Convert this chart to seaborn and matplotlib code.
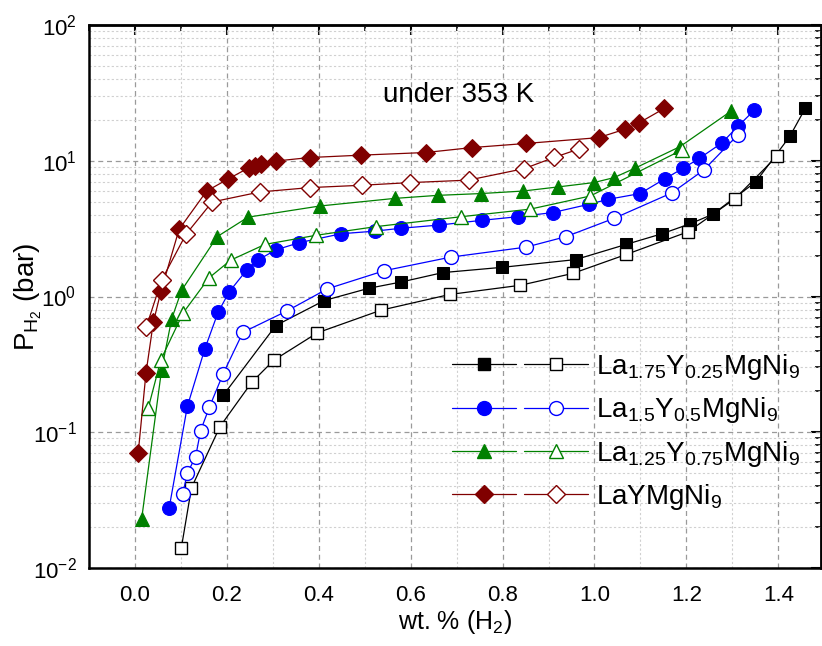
import numpy as np
import pandas as pd
import seaborn as sns
import matplotlib
matplotlib.use("Agg")
import matplotlib.pyplot as plt
from matplotlib.lines import Line2D
from matplotlib.legend_handler import HandlerTuple
from matplotlib.ticker import MultipleLocator, LogLocator, NullFormatter

# ---------------- data ----------------
labels = [r'La$_{1.75}$Y$_{0.25}$MgNi$_9$', r'La$_{1.5}$Y$_{0.5}$MgNi$_9$',
          r'La$_{1.25}$Y$_{0.75}$MgNi$_9$', r'LaYMgNi$_9$']
colors = ['#000000', '#0000FF', '#008000', '#800000']
markers = ['s', 'o', '^', 'D']

x_a_abs = [0.192, 0.3065, 0.412, 0.509, 0.580, 0.670, 0.799, 0.959, 1.069, 1.147, 1.209, 1.257, 1.351, 1.425, 1.459]
y_a_abs = [0.187, 0.611, 0.934, 1.15, 1.28, 1.50, 1.64, 1.87, 2.42, 2.90, 3.44, 4.03, 6.98, 15.1, 24.4]
x_a_des = [0.101, 0.123, 0.185, 0.254, 0.302, 0.397, 0.535, 0.685, 0.839, 0.953, 1.069, 1.204, 1.306, 1.397]
y_a_des = [0.0141, 0.039, 0.110, 0.233, 0.339, 0.540, 0.792, 1.035, 1.21, 1.48, 2.04, 3.0, 5.26, 10.8]

x_b_abs = [0.0746, 0.114, 0.152, 0.181, 0.205, 0.244, 0.267, 0.306, 0.357, 0.449, 0.522, 0.578, 0.662, 0.755, 0.833,
           0.909, 0.988, 1.030, 1.099, 1.154, 1.193, 1.228, 1.277, 1.312, 1.348]
y_b_abs = [0.0279, 0.155, 0.411, 0.766, 1.08, 1.58, 1.85, 2.20, 2.49, 2.90, 3.03, 3.18, 3.36, 3.64, 3.87,
           4.15, 4.78, 5.2, 5.73, 7.39, 8.81, 10.4, 13.5, 17.9, 23.6]
x_b_des = [0.104, 0.114, 0.132, 0.143, 0.162, 0.192, 0.235, 0.330, 0.419, 0.543, 0.687, 0.851, 0.938, 1.043, 1.168, 1.238, 1.312]
y_b_des = [0.035, 0.050, 0.066, 0.103, 0.153, 0.270, 0.545, 0.78, 1.14, 1.55, 1.95, 2.31, 2.76, 3.77, 5.79, 8.55, 15.5]

x_c_abs = [0.0145, 0.058, 0.080, 0.1015, 0.179, 0.246, 0.402, 0.565, 0.659, 0.752, 0.844, 0.920, 0.998, 1.042, 1.088, 1.186, 1.298]
y_c_abs = [0.0229, 0.289, 0.685, 1.11, 2.76, 3.84, 4.64, 5.28, 5.56, 5.73, 5.98, 6.41, 6.9, 7.5, 8.81, 12.7, 23.3]
x_c_des = [0.029, 0.0565, 0.105, 0.161, 0.208, 0.283, 0.393, 0.524, 0.710, 0.86, 0.991, 1.190]
y_c_des = [0.151, 0.343, 0.758, 1.37, 1.85, 2.42, 2.82, 3.27, 3.87, 4.4, 5.5, 12.0]

x_d_abs = [0.007, 0.024, 0.040, 0.0565, 0.096, 0.156, 0.2015, 0.2485, 0.261, 0.274, 0.308, 0.380, 0.493, 0.633,
           0.733, 0.850, 1.009, 1.067, 1.098, 1.152]
y_d_abs = [0.070, 0.273, 0.645, 1.09, 3.12, 5.98, 7.3, 8.9, 9.1, 9.5, 9.96, 10.56, 11.0, 11.5,
           12.5, 13.4, 14.8, 17.1, 19.1, 24.3]
x_d_des = [0.025, 0.058, 0.111, 0.168, 0.272, 0.380, 0.494, 0.598, 0.726, 0.847, 0.913, 0.966]
y_d_des = [0.60, 1.32, 2.87, 4.97, 5.89, 6.34, 6.6, 6.9, 7.2, 8.75, 10.6, 12.2]

abs_x = [x_a_abs, x_b_abs, x_c_abs, x_d_abs]
abs_y = [y_a_abs, y_b_abs, y_c_abs, y_d_abs]
des_x = [x_a_des, x_b_des, x_c_des, x_d_des]
des_y = [y_a_des, y_b_des, y_c_des, y_d_des]

# ---------------- style ----------------
sns.set_theme(style="white")
plt.rcParams['font.family'] = ['Liberation Sans Narrow', 'Liberation Sans', 'DejaVu Sans']
plt.rcParams['mathtext.default'] = 'regular'
plt.rcParams['axes.unicode_minus'] = False
for k in ['text.color', 'axes.labelcolor', 'xtick.color', 'ytick.color', 'legend.labelcolor']:
    plt.rcParams[k] = 'black'

fig = plt.figure(figsize=(8.22, 6.46), dpi=100)
ax = fig.add_axes([89 / 822, 78 / 646, (821 - 89) / 822, (568 - 25) / 646])

msizes = [9, 10, 10.5, 9]
for i in range(4):
    sns.lineplot(x=abs_x[i], y=abs_y[i], ax=ax, color=colors[i], marker=markers[i],
                 markersize=msizes[i], markerfacecolor=colors[i], markeredgecolor=colors[i],
                 linewidth=0.9, sort=False, estimator=None, legend=False, zorder=3)
    sns.lineplot(x=des_x[i], y=des_y[i], ax=ax, color=colors[i], marker=markers[i],
                 markersize=msizes[i], markerfacecolor='white', markeredgecolor=colors[i],
                 markeredgewidth=1.0, linewidth=0.9, sort=False, estimator=None, legend=False, zorder=3)

ax.set_yscale('log')
ax.set_xlim(-0.1, 1.493)
ax.set_ylim(0.01, 100)

ax.xaxis.set_major_locator(MultipleLocator(0.2))
ax.xaxis.set_minor_locator(MultipleLocator(0.1))
ax.yaxis.set_major_locator(LogLocator(base=10, numticks=10))
ax.yaxis.set_minor_locator(LogLocator(base=10, subs=np.arange(2, 10), numticks=20))
ax.yaxis.set_minor_formatter(NullFormatter())

ax.grid(which='major', linestyle=(0, (4, 3)), color='#9a9a9a', linewidth=0.9)
ax.grid(which='minor', linestyle=(0, (2, 2)), color='#d0d0d0', linewidth=0.8)
ax.set_axisbelow(True)

for s in ax.spines.values():
    s.set_linewidth(1.8)
    s.set_color('black')

ax.tick_params(which='major', direction='out', length=6, width=1.5, labelsize=16, colors='black',
               top=False, right=False)
ax.tick_params(axis='x', which='major', pad=6)
ax.tick_params(axis='y', which='major', pad=3)
ax.tick_params(which='minor', direction='out', length=4, width=1.2, top=False, right=False)

# mirrored inward ticks on top / right
axt = ax.secondary_xaxis('top')
axt.xaxis.set_major_locator(MultipleLocator(0.2))
axt.xaxis.set_minor_locator(MultipleLocator(0.1))
axt.tick_params(which='major', direction='in', length=7, width=1.5, labeltop=False, colors='black')
axt.tick_params(which='minor', direction='in', length=4, width=1.2, colors='black')
axt.spines['top'].set_linewidth(1.8)
axr = ax.secondary_yaxis('right')
axr.yaxis.set_major_locator(LogLocator(base=10, numticks=10))
axr.yaxis.set_minor_locator(LogLocator(base=10, subs=np.arange(2, 10), numticks=20))
axr.tick_params(which='major', direction='in', length=7, width=1.5, labelright=False, colors='black')
axr.tick_params(which='minor', direction='in', length=4, width=1.2, labelright=False, colors='black')
axr.spines['right'].set_linewidth(1.8)

ax.set_xlabel(r'wt. % (H$_2$)', fontsize=18, labelpad=2, color='black')
ax.set_ylabel(r'P$_{\mathregular{H_2}}$ (bar)', fontsize=20, color='black')
ax.yaxis.set_label_coords(-0.0615, 0.5)

ax.text(0.505, 0.871, 'under 353 K', transform=ax.transAxes, ha='center', va='center',
        fontsize=20, color='black')

# legend
handles = []
for i in range(4):
    h1 = Line2D([], [], color=colors[i], marker=markers[i], markersize=msizes[i],
                markerfacecolor=colors[i], markeredgecolor=colors[i], linewidth=0.9)
    h2 = Line2D([], [], color=colors[i], marker=markers[i], markersize=msizes[i],
                markerfacecolor='white', markeredgecolor=colors[i], linewidth=0.9)
    handles.append((h1, h2))
leg = ax.legend(handles, labels, handler_map={tuple: HandlerTuple(ndivide=None, pad=0.3)},
                loc='upper left', bbox_to_anchor=(452 / 822, 1 - 352 / 646),
                bbox_transform=fig.transFigure, frameon=False, borderpad=0, borderaxespad=0,
                handlelength=4.9, handletextpad=0.3, labelspacing=0.48,
                prop={'family': ['Liberation Sans', 'DejaVu Sans'], 'size': 20})
for t in leg.get_texts():
    t.set_color('black')

fig.savefig('out.png', dpi=100)
